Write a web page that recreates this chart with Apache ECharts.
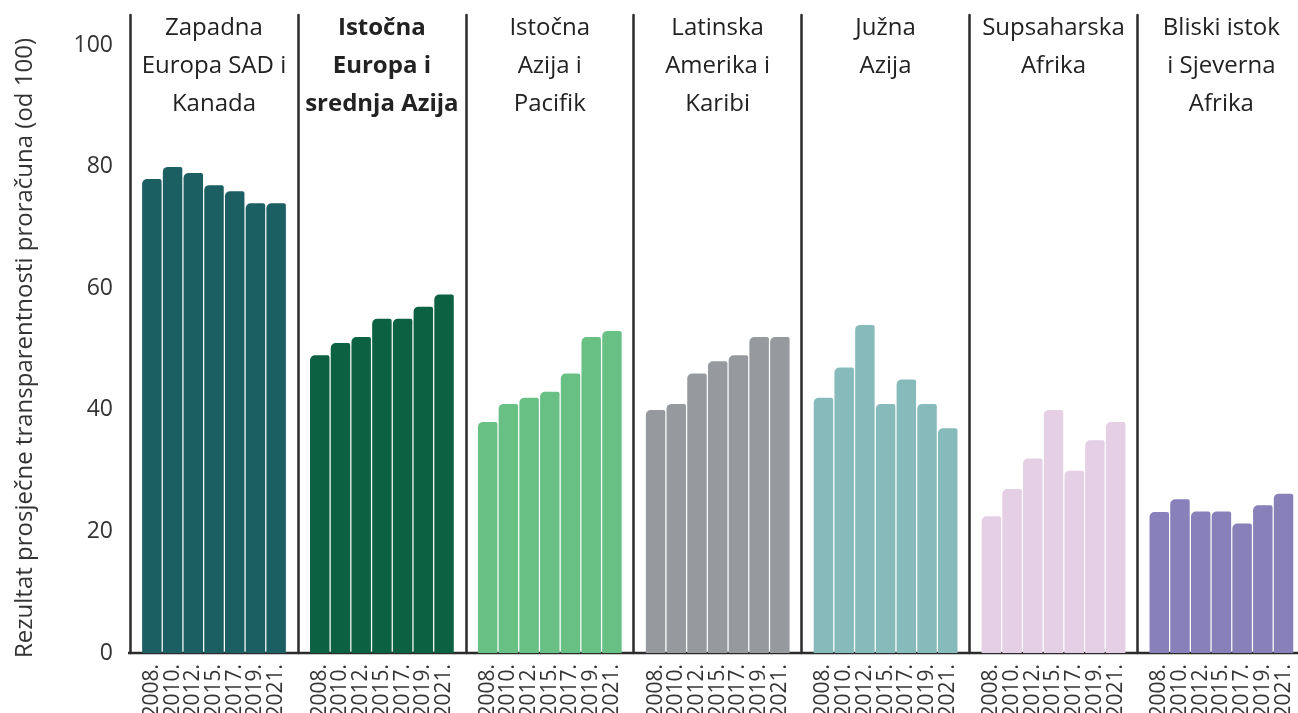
<!DOCTYPE html>
<html><head><meta charset="utf-8">
<script src="https://cdn.jsdelivr.net/npm/echarts@6/dist/echarts.min.js"></script>
<style>html,body{margin:0;padding:0;background:#fff}#c{width:1298px;height:713px}</style>
</head><body><div id="c"></div>
<script>
// ---- data ----
const years = ['2008.', '2010.', '2012.', '2015.', '2017.', '2019.', '2021.'];
const regionNames = [
  'Zapadna\nEuropa SAD i\nKanada',
  'Istočna\nEuropa i\nsrednja Azija',
  'Istočna\nAzija i\nPacifik',
  'Latinska\nAmerika i\nKaribi',
  'Južna\nAzija',
  'Supsaharska\nAfrika',
  'Bliski istok\ni Sjeverna\nAfrika'
];
const boldRegion = 1;
const westEuropeNA   = [78, 80, 79, 77, 76, 74, 74];
const eastEuropeCA   = [49, 51, 52, 55, 55, 57, 59];
const eastAsiaPac    = [38, 41, 42, 43, 46, 52, 53];
const latinAmCarib   = [40, 41, 46, 48, 49, 52, 52];
const southAsia      = [42, 47, 54, 41, 45, 41, 37];
const subSaharan     = [22.5, 27, 32, 40, 30, 35, 38];
const menaRegion     = [23.2, 25.3, 23.3, 23.3, 21.3, 24.3, 26.2];
const yTicks = [0, 20, 40, 60, 80, 100];
const yTitle = 'Rezultat prosječne transparentnosti proračuna (od 100)';

const allValues = [westEuropeNA, eastEuropeCA, eastAsiaPac, latinAmCarib, southAsia, subSaharan, menaRegion];
const colors = ['#1b5f63', '#0c6142', '#69c085', '#969a9e', '#87bbbb', '#e4cfe4', '#8780b9'];

// ---- layout ----
const W = 1298, H = 713;
const panelStart = 130, panelW = 167.9, barPadL = 11.5, barAreaW = 145;
const gridTop = 15, gridBottom = 60;
const yMax = 105;
const font = "'Open Sans', 'Noto Sans', sans-serif";
const ink = '#2b2b2b';

const grids = [], xAxes = [], yAxes = [], series = [], titles = [];
allValues.forEach((vals, i) => {
  const pl = panelStart + i * panelW;
  grids.push({ left: pl + barPadL, width: barAreaW, top: gridTop, bottom: gridBottom,
    containLabel: false, outerBoundsMode: 'none' });
  xAxes.push({
    type: 'category', gridIndex: i, data: years,
    axisLine: { show: false }, axisTick: { show: false },
    axisLabel: { rotate: 90, fontSize: 21, color: '#333', margin: 11, fontFamily: font, interval: 0 }
  });
  yAxes.push({
    type: 'value', gridIndex: i, min: 0, max: yMax, interval: 20, offset: barPadL,
    axisLine: { show: true, lineStyle: { color: ink, width: 2.5 } },
    axisTick: { show: false }, splitLine: { show: false },
    axisLabel: {
      show: i === 0, fontSize: 23, color: '#333', margin: 17, fontFamily: font,
      formatter: v => (yTicks.indexOf(v) >= 0 ? String(v) : '')
    },
    name: i === 0 ? yTitle : '', nameLocation: 'middle', nameGap: 93,
    nameTextStyle: { fontSize: 24, color: '#333', fontFamily: font, padding: [0, 28, 0, 0] }
  });
  series.push({
    type: 'bar', xAxisIndex: i, yAxisIndex: i, data: vals,
    barCategoryGap: '6%',
    itemStyle: { color: colors[i], borderRadius: [5, 2, 0, 0] },
    silent: true
  });
  titles.push({
    text: regionNames[i], left: pl + panelW / 2, top: 9, textAlign: 'center', padding: 0,
    textStyle: { fontSize: 24, lineHeight: 38, color: '#222', fontFamily: font,
      fontWeight: i === boldRegion ? 'bold' : 'normal' }
  });
});

const chart = echarts.init(document.getElementById('c'), null, { renderer: 'canvas' });
chart.setOption({
  backgroundColor: '#fff',
  animation: false,
  title: titles,
  grid: grids, xAxis: xAxes, yAxis: yAxes, series: series,
  graphic: [{
    type: 'line', silent: true,
    shape: { x1: panelStart - 2, y1: H - gridBottom, x2: W, y2: H - gridBottom },
    style: { stroke: ink, lineWidth: 2.5 }
  }]
});
</script></body></html>
